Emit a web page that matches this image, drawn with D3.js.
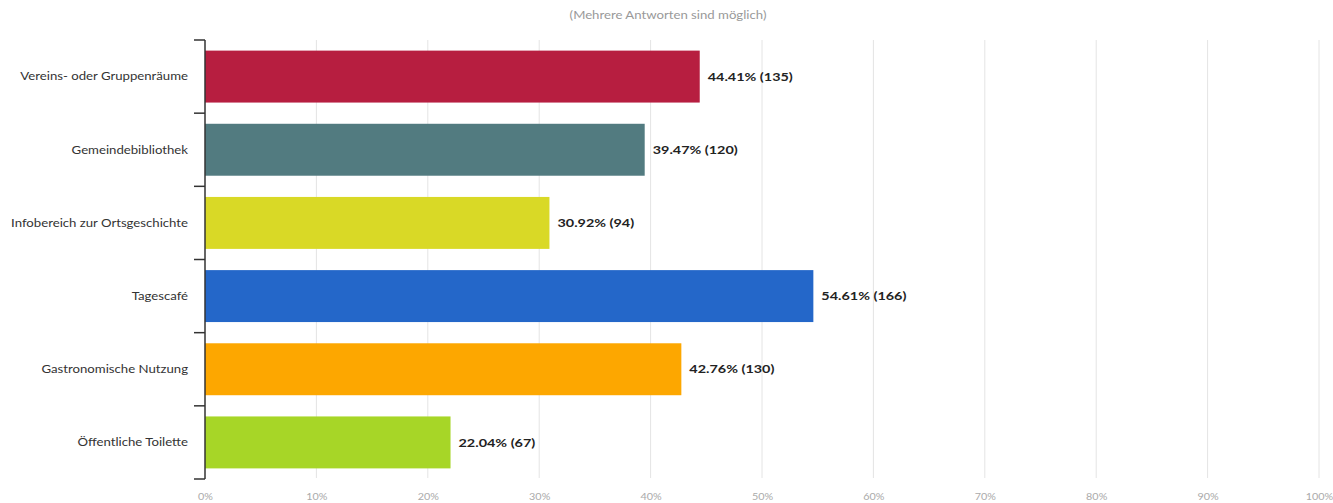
<!DOCTYPE html>
<html>
<head>
<meta charset="utf-8">
<script src="https://cdn.jsdelivr.net/npm/d3@7"></script>
<style>
    body { margin: 0; background: #fff; }
    svg { display: block; font-family: Lato, 'Open Sans', sans-serif; }
</style>
</head>
<body>
<div id="chart"></div>
<script>
'use strict';

var categories = [
    'Vereins- oder Gruppenräume',
    'Gemeindebibliothek',
    'Infobereich zur Ortsgeschichte',
    'Tagescafé',
    'Gastronomische Nutzung',
    'Öffentliche Toilette'
];
var percents = [44.41, 39.47, 30.92, 54.61, 42.76, 22.04];
var counts = [135, 120, 94, 166, 130, 67];
var colors = ['#b71e40', '#527b80', '#d9d926', '#2467c9', '#fda700', '#a7d627'];
var xTicks = [0, 10, 20, 30, 40, 50, 60, 70, 80, 90, 100];
var subtitle = '(Mehrere Antworten sind möglich)';

var width = 1333, height = 503;
// the source picture is a bit stretched sideways, so text is too
var stretch = 1.2;

var svg = d3.select('#chart').append('svg')
    .attr('width', width)
    .attr('height', height);

var x = d3.scaleLinear().domain([0, 100]).range([205, 1319]);
var y = d3.scaleBand().domain(categories).range([40, 479])
    .paddingInner(0.29).paddingOuter(0.145);

function stretched(tx, ty) {
    return 'translate(' + tx + ',' + ty + ') scale(' + stretch + ',1)';
}

svg.append('text')
    .attr('transform', stretched(668, 19))
    .attr('text-anchor', 'middle')
    .style('font-size', '11px')
    .style('fill', '#999')
    .text(subtitle);

// vertical grid
svg.append('g').selectAll('line')
    .data(xTicks.slice(1))
    .enter().append('line')
    .attr('x1', function(d) { return x(d); })
    .attr('x2', function(d) { return x(d); })
    .attr('y1', 40)
    .attr('y2', 478)
    .style('stroke', '#e4e4e4')
    .style('stroke-width', 1);

// x tick labels
var xAxis = svg.append('g')
    .attr('transform', 'translate(0,483)')
    .call(d3.axisBottom(x).tickValues(xTicks).tickSize(0).tickPadding(11)
        .tickFormat(function(d) { return d + '%'; }));
xAxis.select('.domain').remove();
xAxis.selectAll('text')
    .attr('transform', 'scale(' + stretch + ',1)')
    .style('font-family', 'Lato, sans-serif')
    .style('font-size', '9px')
    .style('fill', '#aaa');

// bars
svg.append('g').selectAll('rect')
    .data(categories)
    .enter().append('rect')
    .attr('x', x(0))
    .attr('y', function(d) { return y(d); })
    .attr('width', function(d, i) { return x(percents[i]) - x(0); })
    .attr('height', y.bandwidth())
    .style('fill', function(d, i) { return colors[i]; });

// value labels
svg.append('g').selectAll('text')
    .data(categories)
    .enter().append('text')
    .attr('transform', function(d, i) {
        return stretched(x(percents[i]) + 8, y(d) + y.bandwidth() / 2);
    })
    .attr('dy', '0.35em')
    .style('font-size', '12px')
    .style('font-weight', 'bold')
    .style('fill', '#222')
    .text(function(d, i) { return percents[i].toFixed(2) + '% (' + counts[i] + ')'; });

// y axis with ticks at band boundaries
var step = y.step();
var bounds = categories.map(function(d) { return y(d) - y.paddingInner() * step / 2; });
bounds.push(bounds[bounds.length - 1] + step);

var yAxis = svg.append('g');
yAxis.append('line')
    .attr('x1', x(0)).attr('x2', x(0))
    .attr('y1', bounds[0]).attr('y2', bounds[bounds.length - 1])
    .style('stroke', '#333')
    .style('stroke-width', 1.5);
yAxis.selectAll('line.tick')
    .data(bounds)
    .enter().append('line')
    .attr('class', 'tick')
    .attr('x1', x(0) - 11).attr('x2', x(0))
    .attr('y1', function(d) { return d; })
    .attr('y2', function(d) { return d; })
    .style('stroke', '#333')
    .style('stroke-width', 1.5);

yAxis.selectAll('text')
    .data(categories)
    .enter().append('text')
    .attr('transform', function(d) { return stretched(188, y(d) + y.bandwidth() / 2); })
    .attr('dy', '0.35em')
    .attr('text-anchor', 'end')
    .style('font-size', '11px')
    .style('fill', '#333')
    .text(function(d) { return d; });
</script>
</body>
</html>
